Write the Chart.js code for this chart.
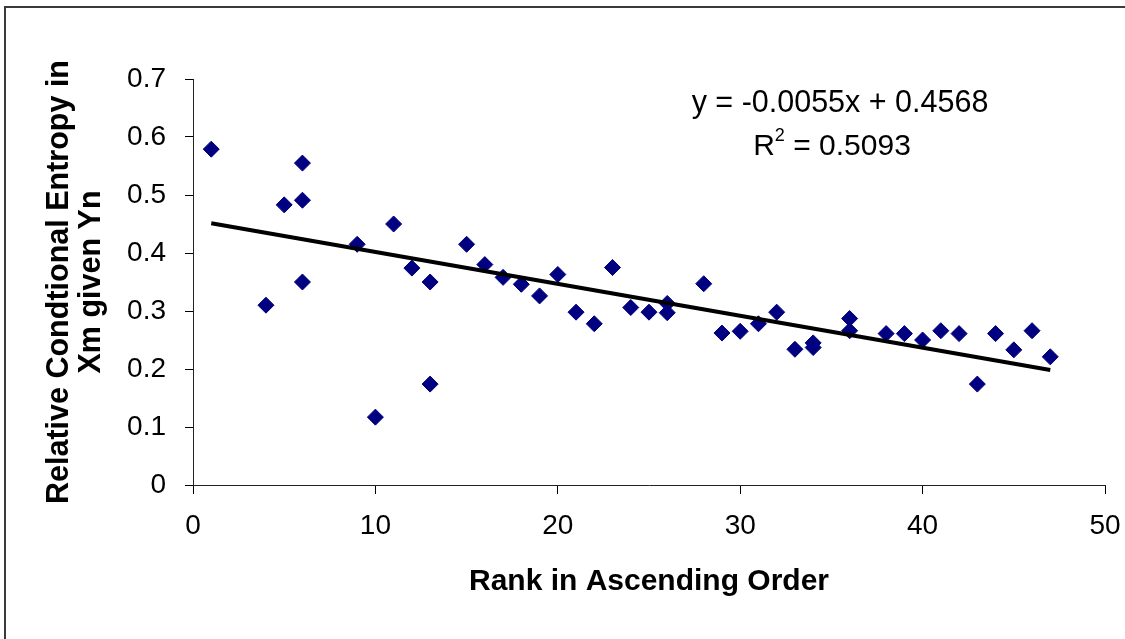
<!DOCTYPE html>
<html>
<head>
<meta charset="utf-8">
<script src="https://cdn.jsdelivr.net/npm/chart.js@4/dist/chart.umd.min.js"></script>
<style>
  html, body { margin: 0; padding: 0; background: #fff; }
  #wrap { width: 1125px; height: 639px; }
</style>
</head>
<body>
<div id="wrap"><canvas id="chart" width="1125" height="639"></canvas></div>
<script>
// Rank of each item and its relative conditional entropy
const ranks = [1, 4, 5, 6, 6, 6, 9, 10, 11, 12, 13, 13, 15, 16, 17, 18, 19, 20, 21, 22, 23, 24, 25, 26, 26,
               28, 29, 30, 31, 32, 33, 34, 34, 36, 36, 38, 39, 40, 41, 42, 43, 44, 45, 46, 47];
const entropy = [0.579, 0.310, 0.483, 0.555, 0.491, 0.350, 0.415, 0.117, 0.450, 0.374, 0.350, 0.174,
                 0.415, 0.380, 0.358, 0.346, 0.326, 0.363, 0.298, 0.278, 0.375, 0.306, 0.298, 0.313, 0.297,
                 0.347, 0.262, 0.265, 0.278, 0.298, 0.234, 0.245, 0.237, 0.287, 0.266, 0.261, 0.261,
                 0.250, 0.266, 0.261, 0.174, 0.261, 0.233, 0.266, 0.221];

// Linear trendline end points (y = -0.0055x + 0.4568)
const trendX = [1, 47];
const trendY = [0.4513, 0.1983];

const equationText = 'y = -0.0055x + 0.4568';
const r2Value = '0.5093';

const FONT = '"Liberation Sans", Arial, sans-serif';

// white background and the outer chart frame
const framePlugin = {
    id: 'frame',
    beforeDraw(chart) {
        const ctx = chart.ctx;
        ctx.save();
        ctx.fillStyle = '#fff';
        ctx.fillRect(0, 0, chart.width, chart.height);
        ctx.strokeStyle = '#3a3a3a';
        ctx.lineWidth = 2;
        ctx.strokeRect(5, 7, 1300, 800);
        ctx.restore();
    }
};

// trendline equation and R squared
const equationPlugin = {
    id: 'equation',
    afterDraw(chart) {
        const ctx = chart.ctx;
        ctx.save();
        ctx.fillStyle = '#000';
        ctx.textBaseline = 'alphabetic';
        ctx.textAlign = 'center';
        ctx.font = '30.5px ' + FONT;
        ctx.fillText(equationText, 840, 112);

        // R² line, drawn in pieces for the superscript
        ctx.textAlign = 'left';
        const big = '30px ' + FONT;
        const small = '18px ' + FONT;
        ctx.font = big;
        const wR = ctx.measureText('R').width;
        const rest = ' = ' + r2Value;
        const wRest = ctx.measureText(rest).width;
        ctx.font = small;
        const w2 = ctx.measureText('2').width;
        let x = 832 - (wR + w2 + wRest) / 2;
        ctx.font = big;
        ctx.fillText('R', x, 155);
        ctx.font = small;
        ctx.fillText('2', x + wR, 141);
        ctx.font = big;
        ctx.fillText(rest, x + wR + w2, 155);
        ctx.restore();
    }
};

const points = ranks.map((r, i) => ({ x: r, y: entropy[i] }));
const trend = trendX.map((x, i) => ({ x: x, y: trendY[i] }));

new Chart(document.getElementById('chart').getContext('2d'), {
    type: 'scatter',
    data: {
        datasets: [{
            label: 'Trend',
            type: 'line',
            data: trend,
            borderColor: '#000',
            borderWidth: 4,
            pointRadius: 0,
            fill: false,
            order: 1
        }, {
            label: 'Entropy',
            data: points,
            pointStyle: 'rectRot',
            pointRadius: 8,
            pointBackgroundColor: '#000080',
            pointBorderColor: '#000080',
            pointBorderWidth: 1,
            order: 2
        }]
    },
    options: {
        responsive: false,
        animation: false,
        layout: { padding: { left: 0, top: 79, right: 20, bottom: 0 } },
        plugins: {
            legend: { display: false },
            tooltip: { enabled: false }
        },
        scales: {
            x: {
                type: 'linear',
                min: 0,
                max: 50,
                ticks: {
                    stepSize: 10,
                    color: '#000',
                    padding: 15,
                    font: { family: FONT, size: 28 },
                    maxRotation: 0
                },
                grid: { drawOnChartArea: false, drawTicks: true, tickLength: 9, color: '#000' },
                border: { display: true, color: '#222', width: 1 },
                title: {
                    display: true,
                    text: 'Rank in Ascending Order',
                    color: '#000',
                    font: { family: FONT, size: 30, weight: 'bold', lineHeight: 1.07 },
                    padding: { top: 0, bottom: 41 }
                },
                afterFit(scale) {
                    scale.height = 154;
                    scale.paddingLeft = 0;
                    scale.paddingRight = 0;
                }
            },
            y: {
                type: 'linear',
                min: 0,
                max: 0.7,
                ticks: {
                    stepSize: 0.1,
                    color: '#000',
                    padding: 19,
                    font: { family: FONT, size: 28 }
                },
                grid: { drawOnChartArea: false, drawTicks: true, tickLength: 8, color: '#000' },
                border: { display: true, color: '#222', width: 1 },
                title: {
                    display: true,
                    text: ['Relative Condtional Entropy in', 'Xm given Yn'],
                    color: '#000',
                    font: { family: FONT, size: 30.5, weight: 'bold', lineHeight: 1.03 },
                    padding: { top: 44, bottom: 0 }
                },
                afterFit(scale) { scale.width = 193; }
            }
        }
    },
    plugins: [framePlugin, equationPlugin]
});
</script>
</body>
</html>
